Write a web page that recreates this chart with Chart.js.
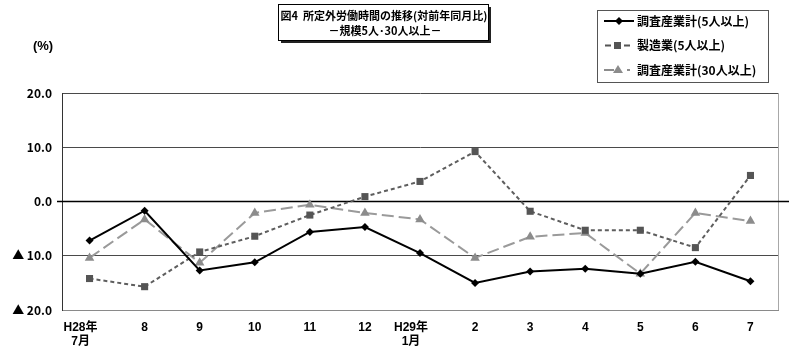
<!DOCTYPE html>
<html>
<head>
<meta charset="utf-8">
<script src="https://cdn.jsdelivr.net/npm/chart.js@4.4.1/dist/chart.umd.min.js"></script>
<style>
  html, body { margin: 0; padding: 0; background: #fff; }
  #wrap { width: 800px; height: 355px; position: relative; }
</style>
</head>
<body>
<div id="wrap"><canvas id="c" width="800" height="355"></canvas></div>
<script>
// ---- data ----
const categories = ['H28年\n7月', '8', '9', '10', '11', '12', 'H29年\n1月', '2', '3', '4', '5', '6', '7'];
const seriesNames = ['調査産業計(5人以上)', '製造業(5人以上)', '調査産業計(30人以上)'];
const allIndustries5 = [-7.2, -1.7, -12.7, -11.2, -5.6, -4.7, -9.5, -15.0, -12.9, -12.4, -13.3, -11.1, -14.7];
const manufacturing5 = [-14.2, -15.7, -9.3, -6.4, -2.5, 0.9, 3.7, 9.2, -1.8, -5.3, -5.3, -8.5, 4.8];
const allIndustries30 = [-10.4, -3.3, -11.3, -2.1, -0.6, -2.1, -3.3, -10.4, -6.5, -5.8, -13.3, -2.1, -3.6];
const yTicks = [20, 10, 0, -10, -20];
const titleLines = ['図4  所定外労働時間の推移(対前年同月比)', '－規模5人･30人以上－'];
const unitLabel = '(%)';

const FONT = "'Liberation Sans', 'Noto Sans CJK JP', sans-serif";
const CJK = "'Noto Sans CJK JP', sans-serif";

const colors = ['#000000', '#555555', '#8c8c8c'];

const decorPlugin = {
  id: 'decor',
  beforeDatasetsDraw(chart) {
    const ctx = chart.ctx;
    const a = chart.chartArea;
    const y0 = chart.scales.y.getPixelForValue(0);
    ctx.save();
    // right border
    ctx.strokeStyle = '#a8a8a8';
    ctx.lineWidth = 1;
    ctx.beginPath();
    ctx.moveTo(a.right + 0.5, a.top);
    ctx.lineTo(a.right + 0.5, a.bottom);
    ctx.stroke();
    // zero line (extends beyond plot)
    ctx.strokeStyle = '#000';
    ctx.lineWidth = 1.4;
    ctx.beginPath();
    ctx.moveTo(a.left - 5, y0);
    ctx.lineTo(a.right + 11, y0);
    ctx.stroke();
    ctx.restore();
  },
  afterDraw(chart) {
    const ctx = chart.ctx;
    ctx.save();
    // title box with shadow
    const bx = 278, by = 4, bw = 210, bh = 36;
    ctx.fillStyle = '#222';
    ctx.fillRect(bx + 3, by + 3, bw, bh);
    ctx.fillStyle = '#fff';
    ctx.fillRect(bx, by, bw, bh);
    ctx.strokeStyle = '#000';
    ctx.lineWidth = 1;
    ctx.strokeRect(bx + 0.5, by + 0.5, bw, bh);
    ctx.fillStyle = '#000';
    ctx.font = "bold 11px " + CJK;
    ctx.textAlign = 'center';
    ctx.textBaseline = 'middle';
    ctx.fillText(titleLines[0], bx + bw / 2 + 1, 16);
    ctx.fillText(titleLines[1], bx + bw / 2 + 2, 31);

    // unit label
    ctx.font = "bold 13px " + FONT;
    ctx.fillText(unitLabel, 43, 46);

    // legend box
    const lx = 597, ly = 10, lw = 171, lh = 72;
    ctx.strokeStyle = '#555';
    ctx.lineWidth = 1;
    ctx.strokeRect(lx + 0.5, ly + 0.5, lw, lh);
    const rows = [21, 45.5, 70];
    // series 1 sample: solid line + diamond
    ctx.strokeStyle = colors[0];
    ctx.lineWidth = 2;
    ctx.beginPath(); ctx.moveTo(604, rows[0]); ctx.lineTo(634, rows[0]); ctx.stroke();
    ctx.fillStyle = colors[0];
    ctx.beginPath();
    ctx.moveTo(619, rows[0] - 4); ctx.lineTo(623, rows[0]); ctx.lineTo(619, rows[0] + 4); ctx.lineTo(615, rows[0]);
    ctx.closePath(); ctx.fill();
    // series 2 sample: short dashes + square
    ctx.strokeStyle = colors[1];
    ctx.beginPath(); ctx.moveTo(605, rows[1]); ctx.lineTo(611, rows[1]); ctx.moveTo(624, rows[1]); ctx.lineTo(630, rows[1]); ctx.stroke();
    ctx.fillStyle = colors[1];
    ctx.fillRect(614, rows[1] - 3.5, 7, 7);
    // series 3 sample: long dash + triangle + dot
    ctx.strokeStyle = colors[2];
    ctx.beginPath(); ctx.moveTo(604, rows[2]); ctx.lineTo(614, rows[2]); ctx.moveTo(627, rows[2]); ctx.lineTo(630, rows[2]); ctx.stroke();
    ctx.fillStyle = colors[2];
    ctx.beginPath();
    ctx.moveTo(618, rows[2] - 5); ctx.lineTo(623, rows[2] + 3); ctx.lineTo(613, rows[2] + 3);
    ctx.closePath(); ctx.fill();
    // legend text
    ctx.fillStyle = '#000';
    ctx.font = "bold 12px " + CJK;
    ctx.textAlign = 'left';
    ctx.textBaseline = 'middle';
    seriesNames.forEach((n, i) => ctx.fillText(n, 637, rows[i]));
    ctx.restore();
  }
};

new Chart(document.getElementById('c'), {
  type: 'line',
  data: {
    labels: categories,
    datasets: [
      {
        label: seriesNames[0], data: allIndustries5,
        borderColor: colors[0], backgroundColor: colors[0], borderWidth: 2,
        pointStyle: 'rectRot', pointRadius: 4, pointBorderWidth: 0,
        pointBackgroundColor: colors[0], tension: 0
      },
      {
        label: seriesNames[1], data: manufacturing5,
        borderColor: '#5e5e5e', backgroundColor: colors[1], borderWidth: 2, borderDash: [4, 3],
        pointStyle: 'rect', pointRadius: 5, pointBorderWidth: 0,
        pointBackgroundColor: colors[1], tension: 0
      },
      {
        label: seriesNames[2], data: allIndustries30,
        borderColor: '#9a9a9a', backgroundColor: colors[2], borderWidth: 2, borderDash: [12, 5],
        pointStyle: 'triangle', pointRadius: 5.5, pointBorderWidth: 0,
        pointBackgroundColor: colors[2], tension: 0
      }
    ]
  },
  options: {
    responsive: false,
    animation: false,
    devicePixelRatio: 1,
    layout: { padding: { left: 0, right: 22, top: 93, bottom: 0 } },
    plugins: { legend: { display: false }, title: { display: false }, tooltip: { enabled: false } },
    scales: {
      x: {
        type: 'category',
        offset: true,
        grid: { display: false, drawTicks: false },
        border: { display: true, color: '#8a8a8a', width: 1 },
        afterFit(scale) { scale.height = 45; },
        ticks: {
          color: '#000',
          font: { family: FONT, size: 12, weight: 'bold' },
          padding: 10,
          maxRotation: 0, autoSkip: false,
          callback(val) {
            const l = this.getLabelForValue(val);
            if (l.indexOf('\n') >= 0) {
              return l.split('\n').map(s => s + '\u3000\u2002');
            }
            return l;
          }
        }
      },
      y: {
        min: -20, max: 20,
        afterFit(scale) { scale.width = 62; },
        afterBuildTicks(scale) { scale.ticks = yTicks.map(v => ({ value: v })); },
        grid: {
          drawTicks: false,
          color(ctx) { return ctx.tick && ctx.tick.value === 0 ? 'rgba(0,0,0,0)' : '#4a4a4a'; },
          lineWidth: 1
        },
        border: { display: true, color: '#333', width: 1 },
        ticks: {
          color: '#000',
          font: { family: CJK, size: 12, weight: 'bold' },
          padding: 10,
          callback(v) {
            if (v === 0) return '0.0';
            if (v < 0) return '▲ ' + Math.abs(v).toFixed(1);
            return v.toFixed(1);
          }
        }
      }
    }
  },
  plugins: [decorPlugin]
});
</script>
</body>
</html>
